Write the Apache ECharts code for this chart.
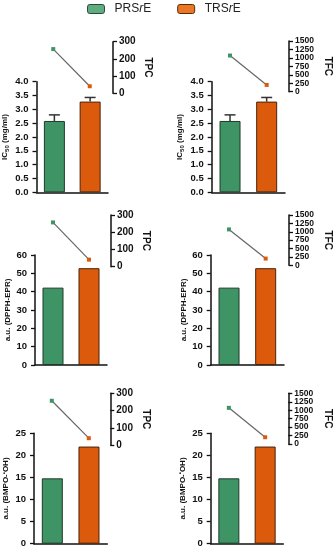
<!DOCTYPE html>
<html>
<head>
<meta charset="utf-8">
<script src="https://cdn.jsdelivr.net/npm/echarts@6/dist/echarts.min.js"></script>
<style>html,body{margin:0;padding:0;background:#fff;}#c{width:334px;height:550px;}</style>
</head>
<body>
<div id="c"></div>
<script>
const categories = ['PRSrE', 'TRSrE'];
const ic50 = [2.58, 3.28];
const ic50Err = [0.22, 0.15];
const dpph = [42.2, 52.8];
const bmpo = [14.8, 22.0];
const tpc = [257, 41];
const tfc = [1070, 200];
const tpcTicks = [0, 100, 200, 300];
const tfcTicks = [0, 250, 500, 750, 1000, 1250, 1500];

const GREEN = '#3f9466', ORANGE = '#dc5a0c';
const LG_GREEN = '#5eac7f', LG_ORANGE = '#ea7626';
const FONT = 'Liberation Sans';

const panels = [
  {bar: ic50, err: ic50Err, max: 4, interval: 0.5, dec: 1, name: '{a|IC}{s|50}{a| (mg/ml)}',
   line: tpc, ticks: tpcTicks, lname: 'TPC',
   g: {left: 35, top: 81.7, width: 73, height: 110.6}, lg: {top: 41.7, height: 51.6}, off: 5},
  {bar: ic50, err: ic50Err, max: 4, interval: 0.5, dec: 1, name: '{a|IC}{s|50}{a| (mg/ml)}',
   line: tfc, ticks: tfcTicks, lname: 'TFC',
   g: {left: 211.7, top: 81.7, width: 73.3, height: 110.6}, lg: {top: 41, height: 50.7}, off: 4},
  {bar: dpph, max: 60, interval: 10, dec: 0, name: '{a|a.u. (DPPH-EPR)}',
   line: tpc, ticks: tpcTicks, lname: 'TPC',
   g: {left: 35, top: 255, width: 72, height: 110}, lg: {top: 215, height: 51.7}, off: 4},
  {bar: dpph, max: 60, interval: 10, dec: 0, name: '{a|a.u. (DPPH-EPR)}',
   line: tfc, ticks: tfcTicks, lname: 'TFC',
   g: {left: 210.7, top: 255, width: 73.3, height: 110}, lg: {top: 215, height: 50.3}, off: 5},
  {bar: bmpo, max: 25, interval: 5, dec: 0, name: '{a|a.u. (BMPO-}{s2|•}{a|OH)}',
   line: tpc, ticks: tpcTicks, lname: 'TPC',
   g: {left: 33.3, top: 433.3, width: 74, height: 110.4}, lg: {top: 393.3, height: 52}, off: 3},
  {bar: bmpo, max: 25, interval: 5, dec: 0, name: '{a|a.u. (BMPO-}{s2|•}{a|OH)}',
   line: tfc, ticks: tfcTicks, lname: 'TFC',
   g: {left: 210.7, top: 433.3, width: 72.6, height: 110.4}, lg: {top: 393.3, height: 50.7}, off: 5}
];

const grid = [], xAxis = [], yAxis = [], series = [];
panels.forEach((p, i) => {
  const gb = grid.length;
  const tk = p.ticks;
  const big = tk[tk.length - 1] > 300;
  const lmin = tk[0], lmax = tk[tk.length - 1], lint = tk[1] - tk[0];
  grid.push({left: p.g.left, top: p.g.top, width: p.g.width, height: p.g.height});
  grid.push({left: p.g.left, top: p.lg.top, width: p.g.width, height: p.lg.height});
  xAxis.push({type: 'category', gridIndex: gb, data: categories, boundaryGap: true,
    axisLine: {show: true, lineStyle: {color: '#111', width: 1.5}}, axisTick: {show: false}, axisLabel: {show: false}});
  xAxis.push({type: 'category', gridIndex: gb + 1, data: categories, boundaryGap: true, show: false});
  const yb = yAxis.length;
  yAxis.push({type: 'value', gridIndex: gb, min: 0, max: p.max, interval: p.interval,
    splitLine: {show: false},
    axisLine: {show: true, lineStyle: {color: '#111', width: 1.5}},
    axisTick: {show: true, length: 4, lineStyle: {color: '#111', width: 1.3}},
    axisLabel: {margin: 8, fontFamily: FONT, fontWeight: 'bold', fontSize: 9.5, color: '#111',
      showMinLabel: true, showMaxLabel: true,
      formatter: v => v.toFixed(p.dec)},
    name: p.name, nameLocation: 'middle', nameRotate: 90, nameGap: p.dec ? 26 : 23,
    nameTextStyle: {rich: {
      a: {fontFamily: FONT, fontWeight: 'bold', fontSize: 8, color: '#111'},
      s: {fontFamily: FONT, fontWeight: 'bold', fontSize: 6, color: '#111', padding: [5, 0, 0, 0]},
      s2: {fontFamily: FONT, fontWeight: 'bold', fontSize: 6, color: '#111', padding: [0, 0, 4, 0]}
    }}});
  const ly = yAxis.length;
  const labA = big ? tk.filter((v, k) => k % 2 === 0) : tk;
  const labB = big ? tk.filter((v, k) => k % 2 === 1) : [];
  const lblStyle = {margin: 6, fontFamily: FONT, fontWeight: 'bold', fontSize: big ? 8.5 : 10, color: '#111',
    showMinLabel: true, showMaxLabel: true, formatter: v => String(v)};
  yAxis.push({type: 'value', gridIndex: gb + 1, position: 'right', offset: p.off,
    min: lmin, max: lmax, interval: lint,
    splitLine: {show: false},
    axisLine: {show: true, lineStyle: {color: '#111', width: 1.5}},
    axisTick: {show: true, length: 4, customValues: tk, lineStyle: {color: '#111', width: 1.3}},
    axisLabel: Object.assign({customValues: labA}, lblStyle),
    name: p.lname, nameLocation: 'middle', nameRotate: -90, nameGap: big ? 34 : 30,
    nameTextStyle: {fontFamily: FONT, fontWeight: 'bold', fontSize: 10, color: '#111'}});
  if (big) {
    yAxis.push({type: 'value', gridIndex: gb + 1, position: 'right', offset: p.off,
      min: lmin, max: lmax, interval: lint,
      splitLine: {show: false}, axisLine: {show: false}, axisTick: {show: false},
      axisLabel: Object.assign({customValues: labB}, lblStyle)});
  }
  series.push({type: 'bar', name: categories[0], xAxisIndex: gb, yAxisIndex: yb, barWidth: 21, barGap: '-100%',
    data: [p.bar[0], '-'], itemStyle: {color: GREEN, borderColor: '#1e3a28', borderWidth: 1}, z: 2});
  series.push({type: 'bar', name: categories[1], xAxisIndex: gb, yAxisIndex: yb, barWidth: 21, barGap: '-100%',
    data: ['-', p.bar[1]], itemStyle: {color: ORANGE, borderColor: '#4a2208', borderWidth: 1}, z: 2});
  if (p.err) {
    series.push({type: 'custom', xAxisIndex: gb, yAxisIndex: yb, z: 1,
      data: p.bar.map((v, k) => [k, v, p.err[k]]),
      encode: {x: 0, y: 1},
      renderItem: (params, api) => {
        const base = api.coord([api.value(0), api.value(1)]);
        const top = api.coord([api.value(0), api.value(1) + api.value(2)]);
        const st = {stroke: '#333', lineWidth: 1.5};
        return {type: 'group', children: [
          {type: 'line', shape: {x1: base[0], y1: base[1], x2: top[0], y2: top[1]}, style: st},
          {type: 'line', shape: {x1: top[0] - 5.5, y1: top[1], x2: top[0] + 5.5, y2: top[1]}, style: st}
        ]};
      }});
  }
  series.push({type: 'line', xAxisIndex: gb + 1, yAxisIndex: ly, symbol: 'rect', symbolSize: 4,
    lineStyle: {color: '#666', width: 1.2},
    data: [{value: p.line[0], itemStyle: {color: GREEN}}, {value: p.line[1], itemStyle: {color: ORANGE}}],
    z: 3});
});

const chart = echarts.init(document.getElementById('c'), null, {renderer: 'canvas'});
chart.setOption({
  animation: false,
  backgroundColor: '#fff',
  legend: {
    left: 87, top: 3, itemWidth: 17, itemHeight: 9, itemGap: 26, padding: 0,
    data: [
      {name: categories[0], itemStyle: {color: LG_GREEN, borderColor: '#2a4a35', borderWidth: 1}},
      {name: categories[1], itemStyle: {color: LG_ORANGE, borderColor: '#5a2a08', borderWidth: 1}}
    ],
    formatter: n => '{n|' + n.slice(0, 3) + '}{i|r}{n|E}',
    textStyle: {padding: [0, 0, 0, 5], rich: {
      n: {fontFamily: FONT, fontSize: 12, color: '#222'},
      i: {fontFamily: FONT, fontSize: 12, fontStyle: 'italic', color: '#222'}
    }}
  },
  grid, xAxis, yAxis, series
});
</script>
</body>
</html>
